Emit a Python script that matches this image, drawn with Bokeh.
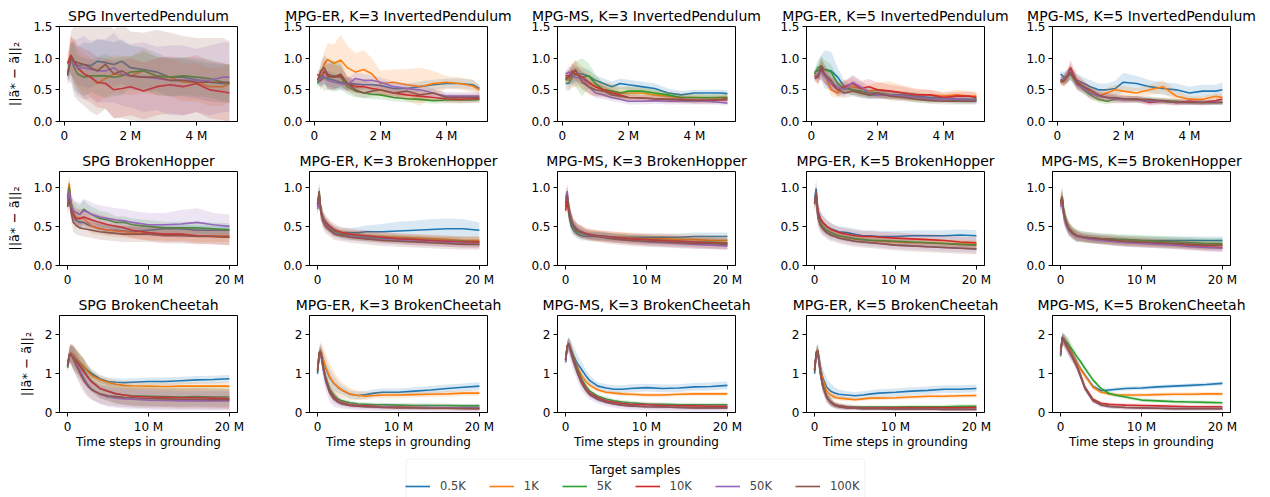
from bokeh.plotting import figure
from bokeh.layouts import gridplot, column
from bokeh.models import FixedTicker, Legend, LegendItem, Range1d, BoxAnnotation, Label
from bokeh.embed import file_html
from bokeh.resources import INLINE

SERIES = ["0.5K", "1K", "5K", "10K", "50K", "100K"]
COLORS = ["#1f77b4", "#ff7f0e", "#2ca02c", "#d62728", "#9467bd", "#8c564b"]
METHODS = ["SPG", "MPG-ER, K=3", "MPG-MS, K=3", "MPG-ER, K=5", "MPG-MS, K=5"]
ENVS = ["InvertedPendulum", "BrokenHopper", "BrokenCheetah"]
LEGEND_TITLE = "Target samples"

# time steps (millions)
X_IP = [0.1, 0.2, 0.3, 0.4, 0.6, 0.8, 1.0, 1.25, 1.5, 1.75, 2.0, 2.4, 2.8, 3.2, 3.6, 4.0, 4.4, 4.8, 5.0]
X_BH = [0, 0.2, 0.4, 0.7, 1.0, 1.5, 2, 2.5, 3, 4, 5, 6, 7, 8, 10, 12, 14, 16, 18, 20]

# ---------------- InvertedPendulum ----------------
ip_spg = [
    [0.75, 1.0, 0.95, 0.88, 0.9, 0.88, 0.95, 0.93, 0.9, 0.95, 0.85, 0.82, 0.78, 0.7, 0.7, 0.66, 0.62, 0.6, 0.6],
    [0.9, 1.05, 0.95, 0.85, 0.75, 0.7, 0.6, 0.68, 0.75, 0.74, 0.72, 0.8, 0.72, 0.7, 0.62, 0.62, 0.55, 0.55, 0.6],
    [0.75, 1.0, 0.85, 0.75, 0.7, 0.72, 0.72, 0.72, 0.7, 0.72, 0.78, 0.8, 0.72, 0.7, 0.72, 0.7, 0.68, 0.62, 0.6],
    [0.92, 1.05, 0.95, 0.85, 0.75, 0.7, 0.62, 0.6, 0.5, 0.52, 0.55, 0.48, 0.55, 0.58, 0.55, 0.6, 0.5, 0.47, 0.45],
    [0.75, 0.95, 0.9, 0.85, 0.85, 0.82, 0.8, 0.8, 0.85, 0.75, 0.72, 0.7, 0.68, 0.65, 0.65, 0.65, 0.65, 0.7, 0.7],
    [0.72, 1.02, 0.95, 0.93, 0.9, 0.85, 0.8, 0.9, 0.75, 0.8, 0.72, 0.7, 0.7, 0.65, 0.65, 0.62, 0.62, 0.62, 0.62],
]
ip_spg_sd = [
    [0.1, 0.25, 0.3, 0.3, 0.35, 0.35, 0.35, 0.35, 0.35, 0.35, 0.35, 0.35, 0.3, 0.3, 0.3, 0.3, 0.3, 0.3, 0.3],
    [0.12, 0.3, 0.3, 0.3, 0.3, 0.3, 0.3, 0.3, 0.3, 0.3, 0.3, 0.35, 0.3, 0.3, 0.3, 0.3, 0.3, 0.3, 0.3],
    [0.1, 0.25, 0.35, 0.3, 0.3, 0.25, 0.3, 0.35, 0.3, 0.3, 0.25, 0.3, 0.3, 0.3, 0.3, 0.3, 0.3, 0.3, 0.3],
    [0.12, 0.3, 0.35, 0.35, 0.4, 0.4, 0.4, 0.4, 0.45, 0.45, 0.45, 0.45, 0.45, 0.45, 0.45, 0.45, 0.45, 0.45, 0.45],
    [0.1, 0.3, 0.4, 0.45, 0.5, 0.45, 0.5, 0.5, 0.55, 0.5, 0.5, 0.55, 0.5, 0.55, 0.55, 0.5, 0.55, 0.55, 0.55],
    [0.12, 0.4, 0.55, 0.6, 0.65, 0.7, 0.7, 0.7, 0.7, 0.75, 0.7, 0.7, 0.75, 0.75, 0.7, 0.7, 0.7, 0.7, 0.65],
]
ip_er3 = [
    [0.62, 0.65, 0.7, 0.68, 0.65, 0.62, 0.6, 0.59, 0.58, 0.58, 0.57, 0.52, 0.52, 0.55, 0.58, 0.6, 0.6, 0.58, 0.52],
    [0.65, 0.75, 0.9, 0.98, 0.92, 0.97, 0.85, 0.78, 0.82, 0.75, 0.6, 0.62, 0.58, 0.55, 0.6, 0.62, 0.6, 0.56, 0.5],
    [0.6, 0.72, 0.68, 0.7, 0.72, 0.7, 0.55, 0.48, 0.45, 0.43, 0.42, 0.38, 0.36, 0.35, 0.33, 0.34, 0.34, 0.34, 0.35],
    [0.75, 0.65, 0.8, 0.72, 0.7, 0.72, 0.6, 0.55, 0.55, 0.52, 0.5, 0.45, 0.42, 0.4, 0.38, 0.36, 0.35, 0.36, 0.36],
    [0.65, 0.68, 0.72, 0.65, 0.62, 0.6, 0.58, 0.68, 0.65, 0.65, 0.62, 0.55, 0.52, 0.5, 0.45, 0.4, 0.4, 0.4, 0.4],
    [0.65, 0.8, 0.85, 0.75, 0.7, 0.75, 0.6, 0.5, 0.45, 0.48, 0.5, 0.45, 0.48, 0.42, 0.45, 0.38, 0.38, 0.38, 0.38],
]
ip_er3_sd = [
    [0.05, 0.1, 0.12, 0.12, 0.12, 0.1, 0.1, 0.08, 0.08, 0.08, 0.08, 0.08, 0.08, 0.08, 0.08, 0.08, 0.08, 0.08, 0.06],
    [0.05, 0.15, 0.2, 0.25, 0.3, 0.4, 0.35, 0.3, 0.3, 0.25, 0.2, 0.2, 0.25, 0.3, 0.2, 0.1, 0.1, 0.1, 0.08],
    [0.05, 0.15, 0.2, 0.2, 0.25, 0.2, 0.12, 0.1, 0.08, 0.08, 0.07, 0.06, 0.06, 0.05, 0.05, 0.05, 0.05, 0.05, 0.05],
    [0.08, 0.15, 0.2, 0.2, 0.2, 0.15, 0.12, 0.1, 0.1, 0.08, 0.08, 0.08, 0.07, 0.07, 0.06, 0.06, 0.06, 0.06, 0.06],
    [0.05, 0.1, 0.12, 0.12, 0.12, 0.1, 0.1, 0.1, 0.1, 0.08, 0.08, 0.08, 0.08, 0.07, 0.07, 0.06, 0.06, 0.06, 0.06],
    [0.05, 0.15, 0.2, 0.25, 0.2, 0.2, 0.12, 0.1, 0.08, 0.08, 0.08, 0.07, 0.07, 0.07, 0.06, 0.06, 0.06, 0.06, 0.06],
]
ip_ms3 = [
    [0.6, 0.6, 0.7, 0.75, 0.75, 0.72, 0.65, 0.6, 0.55, 0.6, 0.58, 0.55, 0.52, 0.45, 0.42, 0.45, 0.45, 0.45, 0.44],
    [0.7, 0.65, 0.72, 0.75, 0.7, 0.6, 0.55, 0.5, 0.48, 0.45, 0.45, 0.45, 0.42, 0.4, 0.38, 0.38, 0.37, 0.38, 0.38],
    [0.65, 0.7, 0.72, 0.75, 0.7, 0.72, 0.6, 0.5, 0.48, 0.45, 0.48, 0.48, 0.45, 0.42, 0.38, 0.38, 0.38, 0.38, 0.38],
    [0.72, 0.72, 0.8, 0.75, 0.7, 0.62, 0.55, 0.5, 0.45, 0.42, 0.38, 0.37, 0.36, 0.35, 0.35, 0.33, 0.33, 0.34, 0.34],
    [0.75, 0.78, 0.72, 0.7, 0.68, 0.55, 0.45, 0.42, 0.38, 0.35, 0.32, 0.32, 0.33, 0.32, 0.32, 0.32, 0.32, 0.3, 0.29],
    [0.68, 0.7, 0.75, 0.82, 0.62, 0.55, 0.5, 0.48, 0.42, 0.4, 0.38, 0.37, 0.36, 0.35, 0.34, 0.34, 0.34, 0.35, 0.36],
]
ip_ms3_sd = [
    [0.1, 0.12, 0.12, 0.12, 0.1, 0.1, 0.08, 0.08, 0.08, 0.08, 0.08, 0.08, 0.08, 0.07, 0.06, 0.05, 0.05, 0.05, 0.05],
    [0.08, 0.15, 0.2, 0.2, 0.18, 0.18, 0.15, 0.12, 0.12, 0.1, 0.1, 0.08, 0.08, 0.07, 0.06, 0.06, 0.05, 0.05, 0.05],
    [0.05, 0.1, 0.15, 0.2, 0.3, 0.2, 0.15, 0.1, 0.08, 0.08, 0.07, 0.06, 0.06, 0.05, 0.05, 0.05, 0.05, 0.05, 0.05],
    [0.05, 0.1, 0.12, 0.12, 0.1, 0.1, 0.08, 0.07, 0.06, 0.06, 0.05, 0.05, 0.05, 0.05, 0.05, 0.05, 0.05, 0.05, 0.05],
    [0.05, 0.1, 0.12, 0.12, 0.1, 0.1, 0.08, 0.07, 0.06, 0.05, 0.05, 0.05, 0.05, 0.05, 0.05, 0.05, 0.05, 0.04, 0.04],
    [0.05, 0.1, 0.15, 0.15, 0.12, 0.1, 0.1, 0.08, 0.07, 0.06, 0.06, 0.05, 0.05, 0.05, 0.05, 0.05, 0.05, 0.05, 0.05],
]
ip_er5 = [
    [0.78, 0.8, 0.85, 0.82, 0.8, 0.7, 0.55, 0.5, 0.45, 0.42, 0.42, 0.42, 0.42, 0.4, 0.38, 0.38, 0.36, 0.35, 0.35],
    [0.75, 0.7, 0.85, 0.75, 0.5, 0.45, 0.55, 0.55, 0.52, 0.48, 0.5, 0.48, 0.45, 0.42, 0.42, 0.4, 0.42, 0.4, 0.4],
    [0.75, 0.85, 0.88, 0.82, 0.78, 0.6, 0.52, 0.5, 0.48, 0.45, 0.45, 0.42, 0.4, 0.38, 0.35, 0.35, 0.33, 0.33, 0.35],
    [0.72, 0.7, 0.82, 0.75, 0.6, 0.5, 0.55, 0.6, 0.52, 0.55, 0.5, 0.48, 0.45, 0.42, 0.42, 0.38, 0.4, 0.4, 0.38],
    [0.7, 0.75, 0.78, 0.72, 0.6, 0.55, 0.5, 0.62, 0.55, 0.45, 0.42, 0.42, 0.4, 0.38, 0.36, 0.35, 0.35, 0.34, 0.33],
    [0.68, 0.7, 0.88, 0.75, 0.65, 0.5, 0.45, 0.48, 0.45, 0.42, 0.45, 0.4, 0.38, 0.35, 0.33, 0.32, 0.32, 0.32, 0.32],
]
ip_er5_sd = [
    [0.05, 0.12, 0.2, 0.3, 0.3, 0.15, 0.1, 0.08, 0.07, 0.06, 0.06, 0.06, 0.06, 0.05, 0.05, 0.05, 0.05, 0.05, 0.05],
    [0.05, 0.1, 0.12, 0.12, 0.1, 0.08, 0.1, 0.12, 0.1, 0.1, 0.12, 0.15, 0.12, 0.1, 0.08, 0.07, 0.08, 0.08, 0.07],
    [0.05, 0.12, 0.15, 0.15, 0.12, 0.1, 0.08, 0.08, 0.08, 0.07, 0.07, 0.06, 0.06, 0.08, 0.06, 0.05, 0.05, 0.05, 0.05],
    [0.05, 0.12, 0.15, 0.15, 0.12, 0.1, 0.1, 0.12, 0.12, 0.12, 0.12, 0.1, 0.1, 0.08, 0.08, 0.07, 0.07, 0.07, 0.07],
    [0.05, 0.1, 0.12, 0.12, 0.1, 0.1, 0.1, 0.12, 0.1, 0.08, 0.07, 0.06, 0.06, 0.05, 0.05, 0.05, 0.05, 0.05, 0.05],
    [0.05, 0.1, 0.15, 0.15, 0.12, 0.1, 0.08, 0.08, 0.08, 0.07, 0.07, 0.06, 0.06, 0.05, 0.05, 0.05, 0.05, 0.05, 0.05],
]
ip_ms5 = [
    [0.75, 0.7, 0.72, 0.75, 0.65, 0.6, 0.55, 0.5, 0.5, 0.52, 0.62, 0.6, 0.55, 0.52, 0.5, 0.45, 0.48, 0.48, 0.5],
    [0.65, 0.62, 0.7, 0.8, 0.62, 0.55, 0.48, 0.4, 0.45, 0.5, 0.48, 0.45, 0.5, 0.55, 0.4, 0.35, 0.35, 0.4, 0.38],
    [0.65, 0.65, 0.72, 0.75, 0.6, 0.5, 0.42, 0.35, 0.32, 0.35, 0.35, 0.35, 0.33, 0.33, 0.32, 0.3, 0.3, 0.3, 0.3],
    [0.65, 0.65, 0.72, 0.85, 0.62, 0.55, 0.45, 0.4, 0.38, 0.36, 0.35, 0.35, 0.3, 0.32, 0.3, 0.32, 0.3, 0.33, 0.35],
    [0.65, 0.68, 0.7, 0.8, 0.58, 0.52, 0.45, 0.4, 0.38, 0.36, 0.35, 0.35, 0.32, 0.32, 0.3, 0.3, 0.3, 0.3, 0.3],
    [0.62, 0.65, 0.7, 0.78, 0.6, 0.55, 0.5, 0.42, 0.38, 0.38, 0.36, 0.35, 0.35, 0.32, 0.3, 0.3, 0.3, 0.3, 0.3],
]
ip_ms5_sd = [
    [0.05, 0.08, 0.1, 0.1, 0.1, 0.1, 0.1, 0.1, 0.1, 0.12, 0.15, 0.12, 0.1, 0.1, 0.1, 0.1, 0.1, 0.1, 0.12],
    [0.05, 0.08, 0.1, 0.1, 0.1, 0.08, 0.08, 0.08, 0.08, 0.08, 0.08, 0.08, 0.08, 0.1, 0.08, 0.05, 0.05, 0.05, 0.05],
    [0.05, 0.08, 0.1, 0.1, 0.08, 0.07, 0.06, 0.05, 0.05, 0.05, 0.05, 0.05, 0.05, 0.05, 0.04, 0.04, 0.04, 0.04, 0.04],
    [0.05, 0.08, 0.1, 0.12, 0.12, 0.1, 0.1, 0.08, 0.08, 0.07, 0.06, 0.05, 0.05, 0.05, 0.05, 0.05, 0.05, 0.05, 0.05],
    [0.05, 0.08, 0.1, 0.12, 0.1, 0.08, 0.07, 0.06, 0.05, 0.05, 0.05, 0.05, 0.05, 0.04, 0.04, 0.04, 0.04, 0.04, 0.04],
    [0.05, 0.08, 0.1, 0.1, 0.08, 0.07, 0.06, 0.05, 0.05, 0.05, 0.05, 0.05, 0.05, 0.04, 0.04, 0.04, 0.04, 0.04, 0.04],
]

# ---------------- BrokenHopper ----------------
SD_N = [0.08, 0.1, 0.1, 0.08, 0.07, 0.06, 0.06, 0.05, 0.05, 0.05, 0.05, 0.05, 0.05, 0.05, 0.05, 0.05, 0.05, 0.05, 0.05, 0.05]
SD_W = [0.1, 0.12, 0.12, 0.1, 0.09, 0.08, 0.08, 0.07, 0.07, 0.07, 0.07, 0.07, 0.07, 0.07, 0.07, 0.07, 0.07, 0.07, 0.07, 0.07]

bh_spg = [
    [0.85, 1.0, 0.75, 0.65, 0.58, 0.55, 0.55, 0.52, 0.5, 0.47, 0.45, 0.45, 0.44, 0.43, 0.45, 0.47, 0.47, 0.45, 0.45, 0.45],
    [0.9, 1.05, 0.8, 0.7, 0.62, 0.6, 0.6, 0.55, 0.5, 0.47, 0.45, 0.44, 0.43, 0.42, 0.4, 0.4, 0.4, 0.38, 0.38, 0.38],
    [0.75, 1.0, 0.8, 0.7, 0.68, 0.65, 0.72, 0.68, 0.65, 0.6, 0.58, 0.55, 0.55, 0.52, 0.5, 0.48, 0.48, 0.48, 0.47, 0.46],
    [0.85, 0.95, 0.75, 0.65, 0.6, 0.6, 0.62, 0.6, 0.58, 0.55, 0.52, 0.5, 0.48, 0.45, 0.42, 0.4, 0.4, 0.38, 0.37, 0.36],
    [0.8, 0.95, 0.78, 0.7, 0.68, 0.65, 0.7, 0.68, 0.65, 0.62, 0.6, 0.58, 0.57, 0.55, 0.52, 0.52, 0.53, 0.55, 0.52, 0.5],
    [0.75, 0.85, 0.7, 0.55, 0.52, 0.48, 0.47, 0.46, 0.45, 0.43, 0.42, 0.41, 0.4, 0.4, 0.4, 0.38, 0.38, 0.37, 0.37, 0.36],
]
bh_spg_sd = [
    [0.1, 0.1, 0.12, 0.1, 0.08, 0.08, 0.08, 0.07, 0.07, 0.06, 0.06, 0.06, 0.06, 0.06, 0.06, 0.06, 0.06, 0.06, 0.06, 0.06],
    [0.1, 0.1, 0.12, 0.12, 0.12, 0.1, 0.1, 0.1, 0.1, 0.08, 0.08, 0.08, 0.08, 0.08, 0.08, 0.08, 0.08, 0.08, 0.08, 0.08],
    [0.1, 0.1, 0.12, 0.12, 0.12, 0.12, 0.12, 0.1, 0.1, 0.1, 0.1, 0.08, 0.08, 0.08, 0.08, 0.08, 0.08, 0.08, 0.08, 0.08],
    [0.1, 0.1, 0.12, 0.12, 0.12, 0.12, 0.1, 0.1, 0.1, 0.1, 0.1, 0.1, 0.1, 0.1, 0.1, 0.1, 0.1, 0.1, 0.1, 0.1],
    [0.1, 0.12, 0.15, 0.15, 0.15, 0.15, 0.15, 0.15, 0.15, 0.15, 0.15, 0.15, 0.15, 0.15, 0.15, 0.15, 0.18, 0.18, 0.15, 0.15],
    [0.1, 0.1, 0.12, 0.12, 0.12, 0.1, 0.1, 0.1, 0.1, 0.1, 0.1, 0.1, 0.1, 0.1, 0.1, 0.1, 0.1, 0.1, 0.1, 0.1],
]
bh_er3 = [
    [0.8, 0.92, 0.7, 0.6, 0.55, 0.5, 0.45, 0.43, 0.42, 0.42, 0.42, 0.43, 0.43, 0.43, 0.44, 0.45, 0.46, 0.47, 0.47, 0.45],
    [0.75, 0.88, 0.68, 0.58, 0.53, 0.48, 0.44, 0.42, 0.41, 0.4, 0.39, 0.38, 0.37, 0.37, 0.36, 0.35, 0.34, 0.33, 0.32, 0.32],
    [0.78, 0.9, 0.7, 0.58, 0.53, 0.48, 0.44, 0.41, 0.4, 0.38, 0.37, 0.36, 0.36, 0.35, 0.34, 0.33, 0.32, 0.31, 0.31, 0.3],
    [0.75, 0.9, 0.7, 0.6, 0.55, 0.5, 0.46, 0.44, 0.42, 0.4, 0.39, 0.38, 0.37, 0.36, 0.34, 0.33, 0.32, 0.31, 0.3, 0.3],
    [0.72, 0.88, 0.68, 0.58, 0.52, 0.46, 0.42, 0.4, 0.38, 0.37, 0.36, 0.35, 0.34, 0.33, 0.32, 0.31, 0.3, 0.29, 0.28, 0.27],
    [0.78, 0.95, 0.68, 0.56, 0.5, 0.45, 0.41, 0.39, 0.38, 0.36, 0.35, 0.34, 0.33, 0.32, 0.31, 0.3, 0.29, 0.28, 0.27, 0.27],
]
bh_er3_blue_sd = [0.08, 0.1, 0.1, 0.08, 0.07, 0.06, 0.06, 0.06, 0.06, 0.06, 0.07, 0.08, 0.09, 0.1, 0.12, 0.12, 0.13, 0.13, 0.12, 0.1]
bh_er3_sd = [bh_er3_blue_sd, SD_N, SD_N, SD_W, SD_N, SD_W]
bh_ms3 = [
    [0.8, 0.85, 0.65, 0.5, 0.45, 0.4, 0.38, 0.37, 0.37, 0.37, 0.37, 0.36, 0.36, 0.36, 0.36, 0.36, 0.36, 0.37, 0.37, 0.37],
    [0.8, 0.9, 0.7, 0.58, 0.5, 0.45, 0.42, 0.4, 0.39, 0.38, 0.37, 0.36, 0.36, 0.35, 0.34, 0.34, 0.33, 0.33, 0.32, 0.32],
    [0.75, 0.88, 0.68, 0.55, 0.48, 0.43, 0.41, 0.4, 0.39, 0.38, 0.37, 0.36, 0.35, 0.34, 0.33, 0.32, 0.31, 0.3, 0.3, 0.29],
    [0.7, 0.85, 0.7, 0.58, 0.5, 0.45, 0.43, 0.41, 0.4, 0.38, 0.37, 0.36, 0.35, 0.34, 0.33, 0.32, 0.31, 0.3, 0.29, 0.28],
    [0.85, 0.95, 0.75, 0.6, 0.52, 0.46, 0.42, 0.4, 0.38, 0.37, 0.36, 0.34, 0.33, 0.32, 0.3, 0.29, 0.28, 0.27, 0.26, 0.25],
    [0.8, 0.9, 0.72, 0.58, 0.5, 0.45, 0.42, 0.4, 0.38, 0.37, 0.35, 0.34, 0.33, 0.32, 0.31, 0.3, 0.29, 0.28, 0.28, 0.27],
]
bh_ms3_sd = [SD_N, SD_W, SD_N, SD_W, SD_N, SD_W]
bh_er5 = [
    [0.85, 0.98, 0.7, 0.6, 0.55, 0.5, 0.47, 0.45, 0.43, 0.42, 0.4, 0.38, 0.38, 0.37, 0.37, 0.38, 0.38, 0.38, 0.39, 0.38],
    [0.8, 0.9, 0.65, 0.55, 0.5, 0.45, 0.42, 0.4, 0.38, 0.36, 0.34, 0.33, 0.32, 0.31, 0.3, 0.29, 0.29, 0.28, 0.27, 0.27],
    [0.8, 0.9, 0.65, 0.55, 0.5, 0.45, 0.42, 0.4, 0.38, 0.36, 0.34, 0.33, 0.32, 0.32, 0.31, 0.3, 0.29, 0.28, 0.27, 0.26],
    [0.8, 0.92, 0.7, 0.6, 0.55, 0.5, 0.46, 0.44, 0.42, 0.4, 0.38, 0.37, 0.37, 0.36, 0.35, 0.34, 0.33, 0.32, 0.3, 0.29],
    [0.8, 0.88, 0.62, 0.52, 0.47, 0.42, 0.39, 0.37, 0.35, 0.33, 0.31, 0.3, 0.29, 0.28, 0.26, 0.25, 0.24, 0.23, 0.22, 0.21],
    [0.78, 0.9, 0.62, 0.52, 0.47, 0.42, 0.39, 0.37, 0.35, 0.33, 0.31, 0.3, 0.29, 0.28, 0.26, 0.25, 0.24, 0.23, 0.22, 0.21],
]
bh_er5_sd = [SD_W, SD_N, SD_N, SD_W, SD_N, SD_W]
bh_ms5 = [
    [0.8, 0.85, 0.65, 0.55, 0.48, 0.42, 0.38, 0.37, 0.36, 0.35, 0.34, 0.34, 0.33, 0.33, 0.32, 0.32, 0.32, 0.32, 0.32, 0.32],
    [0.8, 0.85, 0.65, 0.55, 0.48, 0.42, 0.38, 0.37, 0.36, 0.34, 0.33, 0.32, 0.32, 0.31, 0.3, 0.29, 0.28, 0.27, 0.26, 0.26],
    [0.8, 0.88, 0.68, 0.56, 0.48, 0.42, 0.38, 0.37, 0.36, 0.35, 0.34, 0.34, 0.33, 0.33, 0.32, 0.31, 0.3, 0.29, 0.28, 0.28],
    [0.78, 0.85, 0.65, 0.55, 0.47, 0.41, 0.38, 0.36, 0.35, 0.34, 0.33, 0.32, 0.31, 0.3, 0.29, 0.28, 0.27, 0.26, 0.24, 0.23],
    [0.75, 0.82, 0.62, 0.52, 0.45, 0.4, 0.37, 0.36, 0.35, 0.33, 0.32, 0.31, 0.3, 0.29, 0.28, 0.27, 0.26, 0.24, 0.23, 0.22],
    [0.82, 0.88, 0.66, 0.55, 0.47, 0.41, 0.38, 0.37, 0.36, 0.35, 0.34, 0.33, 0.32, 0.31, 0.3, 0.29, 0.28, 0.27, 0.26, 0.26],
]
bh_ms5_sd = [SD_N, SD_N, SD_W, SD_N, SD_N, SD_W]

# ---------------- BrokenCheetah ----------------
SD_CN = [0.1, 0.12, 0.15, 0.15, 0.15, 0.12, 0.1, 0.08, 0.07, 0.06, 0.05, 0.05, 0.05, 0.05, 0.05, 0.05, 0.05, 0.05, 0.05, 0.05]
SD_CW = [0.1, 0.15, 0.2, 0.25, 0.25, 0.22, 0.2, 0.15, 0.12, 0.1, 0.1, 0.1, 0.1, 0.1, 0.1, 0.1, 0.1, 0.1, 0.1, 0.1]

bc_spg = [
    [1.2, 1.45, 1.5, 1.45, 1.38, 1.28, 1.18, 1.08, 1.0, 0.87, 0.8, 0.78, 0.77, 0.78, 0.8, 0.8, 0.82, 0.84, 0.85, 0.87],
    [1.2, 1.5, 1.55, 1.5, 1.42, 1.3, 1.2, 1.05, 0.95, 0.85, 0.78, 0.73, 0.7, 0.69, 0.68, 0.67, 0.68, 0.68, 0.68, 0.68],
    [1.15, 1.45, 1.5, 1.42, 1.35, 1.22, 1.1, 0.92, 0.8, 0.62, 0.55, 0.48, 0.45, 0.43, 0.42, 0.41, 0.4, 0.41, 0.4, 0.4],
    [1.2, 1.45, 1.5, 1.42, 1.33, 1.2, 1.05, 0.9, 0.78, 0.62, 0.55, 0.48, 0.45, 0.42, 0.4, 0.39, 0.38, 0.38, 0.37, 0.35],
    [1.2, 1.5, 1.52, 1.4, 1.28, 1.1, 0.9, 0.72, 0.6, 0.47, 0.4, 0.37, 0.35, 0.34, 0.32, 0.31, 0.3, 0.3, 0.3, 0.3],
    [1.2, 1.48, 1.5, 1.38, 1.25, 1.02, 0.82, 0.68, 0.58, 0.48, 0.43, 0.41, 0.39, 0.38, 0.36, 0.35, 0.34, 0.34, 0.33, 0.33],
]
bc_spg_big_sd = [0.1, 0.2, 0.25, 0.3, 0.3, 0.3, 0.3, 0.28, 0.26, 0.25, 0.25, 0.25, 0.25, 0.25, 0.25, 0.25, 0.25, 0.25, 0.25, 0.25]
bc_spg_sd = [SD_CW, SD_CW, bc_spg_big_sd, bc_spg_big_sd, bc_spg_big_sd, bc_spg_big_sd]
bc_er3 = [
    [1.0, 1.55, 1.6, 1.35, 1.15, 0.9, 0.75, 0.65, 0.58, 0.47, 0.44, 0.46, 0.5, 0.52, 0.52, 0.55, 0.58, 0.62, 0.65, 0.68],
    [1.1, 1.55, 1.6, 1.38, 1.18, 0.92, 0.76, 0.66, 0.58, 0.48, 0.44, 0.42, 0.44, 0.45, 0.45, 0.46, 0.47, 0.48, 0.5, 0.5],
    [1.05, 1.5, 1.55, 1.2, 0.9, 0.6, 0.45, 0.35, 0.3, 0.25, 0.22, 0.21, 0.2, 0.2, 0.19, 0.18, 0.18, 0.18, 0.17, 0.17],
    [1.1, 1.5, 1.55, 1.15, 0.85, 0.55, 0.4, 0.3, 0.25, 0.2, 0.18, 0.17, 0.16, 0.15, 0.14, 0.13, 0.12, 0.12, 0.11, 0.1],
    [1.1, 1.5, 1.5, 1.1, 0.8, 0.5, 0.35, 0.27, 0.22, 0.18, 0.16, 0.15, 0.14, 0.14, 0.13, 0.13, 0.13, 0.12, 0.12, 0.12],
    [1.05, 1.55, 1.55, 1.15, 0.85, 0.52, 0.36, 0.28, 0.23, 0.18, 0.16, 0.15, 0.14, 0.13, 0.12, 0.12, 0.11, 0.11, 0.1, 0.1],
]
bc_er3_orange_sd = [0.1, 0.15, 0.2, 0.3, 0.35, 0.35, 0.3, 0.25, 0.2, 0.15, 0.12, 0.1, 0.08, 0.08, 0.07, 0.07, 0.07, 0.07, 0.07, 0.07]
bc_er3_sd = [SD_CW, bc_er3_orange_sd, SD_CN, SD_CN, SD_CW, SD_CN]
bc_ms3 = [
    [1.35, 1.7, 1.75, 1.6, 1.45, 1.25, 1.1, 0.95, 0.82, 0.68, 0.63, 0.6, 0.6, 0.62, 0.64, 0.62, 0.63, 0.66, 0.67, 0.7],
    [1.35, 1.7, 1.75, 1.6, 1.4, 1.15, 0.95, 0.8, 0.7, 0.58, 0.52, 0.5, 0.48, 0.47, 0.45, 0.45, 0.47, 0.48, 0.48, 0.48],
    [1.3, 1.7, 1.78, 1.6, 1.4, 1.1, 0.85, 0.68, 0.55, 0.42, 0.35, 0.3, 0.27, 0.25, 0.22, 0.21, 0.2, 0.2, 0.2, 0.2],
    [1.35, 1.72, 1.75, 1.55, 1.35, 1.05, 0.8, 0.62, 0.5, 0.38, 0.3, 0.26, 0.23, 0.21, 0.2, 0.18, 0.17, 0.17, 0.16, 0.16],
    [1.3, 1.68, 1.72, 1.5, 1.3, 1.0, 0.75, 0.58, 0.45, 0.33, 0.26, 0.22, 0.19, 0.17, 0.15, 0.14, 0.13, 0.12, 0.12, 0.12],
    [1.35, 1.72, 1.78, 1.55, 1.32, 1.0, 0.75, 0.58, 0.46, 0.34, 0.27, 0.22, 0.19, 0.17, 0.15, 0.14, 0.13, 0.12, 0.12, 0.12],
]
bc_ms3_sd = [SD_CW, SD_CN, SD_CN, SD_CN, SD_CW, SD_CN]
bc_er5 = [
    [1.0, 1.55, 1.6, 1.2, 0.9, 0.65, 0.55, 0.5, 0.47, 0.45, 0.43, 0.45, 0.48, 0.5, 0.52, 0.55, 0.57, 0.6, 0.6, 0.62],
    [1.1, 1.55, 1.6, 1.15, 0.85, 0.55, 0.45, 0.4, 0.37, 0.35, 0.33, 0.35, 0.37, 0.37, 0.38, 0.4, 0.42, 0.42, 0.43, 0.44],
    [1.1, 1.5, 1.55, 1.05, 0.7, 0.4, 0.27, 0.2, 0.18, 0.15, 0.14, 0.14, 0.14, 0.14, 0.14, 0.15, 0.15, 0.15, 0.16, 0.16],
    [1.1, 1.5, 1.55, 1.05, 0.7, 0.4, 0.27, 0.2, 0.17, 0.14, 0.13, 0.12, 0.12, 0.12, 0.12, 0.12, 0.12, 0.12, 0.12, 0.13],
    [1.1, 1.5, 1.55, 1.0, 0.68, 0.38, 0.25, 0.18, 0.15, 0.12, 0.11, 0.1, 0.1, 0.1, 0.09, 0.09, 0.09, 0.08, 0.08, 0.08],
    [1.05, 1.55, 1.6, 1.05, 0.7, 0.4, 0.26, 0.18, 0.15, 0.12, 0.11, 0.1, 0.1, 0.1, 0.09, 0.09, 0.09, 0.08, 0.08, 0.08],
]
bc_er5_sd = [SD_CW, SD_CN, SD_CN, SD_CN, SD_CN, SD_CN]
bc_ms5 = [
    [1.5, 1.95, 1.9, 1.82, 1.72, 1.5, 1.3, 1.12, 0.97, 0.68, 0.56, 0.58, 0.6, 0.62, 0.63, 0.66, 0.68, 0.7, 0.72, 0.75],
    [1.5, 1.9, 1.88, 1.8, 1.7, 1.48, 1.28, 1.1, 0.95, 0.65, 0.52, 0.48, 0.45, 0.45, 0.45, 0.46, 0.47, 0.47, 0.48, 0.48],
    [1.45, 1.9, 1.88, 1.82, 1.75, 1.6, 1.44, 1.3, 1.14, 0.84, 0.62, 0.49, 0.44, 0.4, 0.32, 0.3, 0.28, 0.27, 0.26, 0.25],
    [1.5, 1.92, 1.85, 1.75, 1.62, 1.42, 1.22, 0.95, 0.66, 0.34, 0.24, 0.21, 0.2, 0.19, 0.18, 0.17, 0.16, 0.15, 0.15, 0.15],
    [1.5, 1.9, 1.85, 1.72, 1.6, 1.4, 1.18, 0.9, 0.62, 0.3, 0.19, 0.15, 0.14, 0.13, 0.12, 0.11, 0.1, 0.1, 0.1, 0.1],
    [1.55, 1.92, 1.85, 1.72, 1.6, 1.4, 1.2, 0.92, 0.63, 0.31, 0.2, 0.16, 0.14, 0.13, 0.12, 0.11, 0.1, 0.1, 0.1, 0.1],
]
bc_ms5_sd = [SD_CN, SD_CN, SD_CN, SD_CN, SD_CN, SD_CN]

PANELS = [
    [(X_IP, ip_spg, ip_spg_sd), (X_IP, ip_er3, ip_er3_sd), (X_IP, ip_ms3, ip_ms3_sd), (X_IP, ip_er5, ip_er5_sd), (X_IP, ip_ms5, ip_ms5_sd)],
    [(X_BH, bh_spg, bh_spg_sd), (X_BH, bh_er3, bh_er3_sd), (X_BH, bh_ms3, bh_ms3_sd), (X_BH, bh_er5, bh_er5_sd), (X_BH, bh_ms5, bh_ms5_sd)],
    [(X_BH, bc_spg, bc_spg_sd), (X_BH, bc_er3, bc_er3_sd), (X_BH, bc_ms3, bc_ms3_sd), (X_BH, bc_er5, bc_er5_sd), (X_BH, bc_ms5, bc_ms5_sd)],
]

ROW_XR = [(-0.145, 5.245), (-1.0, 21.0), (-1.0, 21.0)]
ROW_XT = [[0, 2, 4], [0, 10, 20], [0, 10, 20]]
ROW_XL = [["0", "2 M", "4 M"], ["0", "10 M", "20 M"], ["0", "10 M", "20 M"]]
ROW_YR = [(0, 1.5), (0, 1.2), (0, 2.5)]
ROW_YT = [[0, 0.5, 1.0, 1.5], [0, 0.5, 1.0], [0, 1, 2]]
ROW_YL = [["0.0", "0.5", "1.0", "1.5"], ["0.0", "0.5", "1.0"], ["0", "1", "2"]]
Y_LABEL = "||ã* − ã||₂"
X_LABEL = "Time steps in grounding"

# layout (px) -- page has no margin with bokeh's template
FIG_W = [273, 249, 248, 248, 244]
LEFT = [59, 36, 35, 36, 34]
FRAME_W = 178
TOP = 26
FRAME_H = 97
BOTTOM = [22, 21, 46]
FONT = "DejaVu Sans"

rows = []
for r in range(3):
    row = []
    for c in range(5):
        xs, means, sds = PANELS[r][c]
        p = figure(width=FIG_W[c], height=TOP + FRAME_H + BOTTOM[r],
                   x_range=Range1d(*ROW_XR[r]), y_range=Range1d(*ROW_YR[r]),
                   toolbar_location=None, output_backend="svg",
                   min_border_left=LEFT[c], min_border_right=FIG_W[c] - LEFT[c] - FRAME_W,
                   min_border_top=TOP, min_border_bottom=BOTTOM[r],
                   title=f"{METHODS[c]} {ENVS[r]}")
        p.title.text_font = FONT
        p.title.text_font_size = "14px"
        p.title.text_font_style = "normal"
        p.title.align = "center"
        p.title.standoff = 6
        p.title.text_color = "#000000"
        for k in range(6):
            lo = [m - s for m, s in zip(means[k], sds[k])]
            hi = [m + s for m, s in zip(means[k], sds[k])]
            p.varea(x=xs, y1=lo, y2=hi, fill_color=COLORS[k], fill_alpha=0.17)
            p.line(xs, means[k], line_color=COLORS[k], line_width=1.6)
        p.xgrid.visible = False
        p.ygrid.visible = False
        p.outline_line_color = "black"
        p.outline_line_width = 1
        p.xaxis.ticker = FixedTicker(ticks=ROW_XT[r])
        p.xaxis.major_label_overrides = dict(zip(ROW_XT[r], ROW_XL[r]))
        p.yaxis.ticker = FixedTicker(ticks=ROW_YT[r])
        p.yaxis.major_label_overrides = dict(zip(ROW_YT[r], ROW_YL[r]))
        for ax in (p.xaxis, p.yaxis):
            ax.axis_line_color = "black"
            ax.major_tick_in = 0
            ax.major_tick_out = 4
            ax.major_tick_line_color = "black"
            ax.minor_tick_line_color = None
            ax.major_label_text_font = FONT
            ax.major_label_text_font_size = "12px"
            ax.major_label_text_color = "#000000"
            ax.major_label_standoff = 3
            ax.axis_label_text_font = FONT
            ax.axis_label_text_font_size = "12px"
            ax.axis_label_text_font_style = "normal"
            ax.axis_label_text_color = "#000000"
        if c == 0:
            p.yaxis.axis_label = Y_LABEL
            p.yaxis.axis_label_text_font_size = "13px"
            p.yaxis.axis_label_standoff = 8
        if r == 2:
            p.xaxis.axis_label = X_LABEL
            p.xaxis.axis_label_standoff = -2
        row.append(p)
    rows.append(row)

grid = gridplot(rows, toolbar_location=None)

LEG_W = sum(FIG_W)
LEG_H = 39
pl = figure(width=LEG_W, height=LEG_H, x_range=Range1d(0, 1), y_range=Range1d(0, 1),
            toolbar_location=None, output_backend="svg", min_border=0,
            x_axis_location=None, y_axis_location=None)
pl.outline_line_color = None
pl.xgrid.visible = False
pl.ygrid.visible = False
box = BoxAnnotation(left=405.5, right=864.5, top=0.5, bottom=70,
                    left_units="canvas", right_units="canvas", top_units="canvas", bottom_units="canvas",
                    fill_color="white", fill_alpha=1.0, line_color="#cccccc", line_width=1,
                    border_radius=3)
pl.add_layout(box)
items = []
for k in range(6):
    rr = pl.line([5, 6], [5, 6], line_color=COLORS[k], line_width=1.6)
    items.append(LegendItem(label=SERIES[k], renderers=[rr]))
leg = Legend(items=items, orientation="horizontal", location=(405, 2),
             label_text_font=FONT, label_text_font_size="11.5px", label_standoff=10,
             label_width=0, glyph_width=25, glyph_height=18, spacing=23, padding=4, margin=0,
             border_line_color=None, background_fill_alpha=0.0)
pl.add_layout(leg)
title_lbl = Label(x=634.5, y=LEG_H - 11, x_units="screen", y_units="screen", text=LEGEND_TITLE,
                  text_align="center", text_baseline="middle", text_font=FONT,
                  text_font_size="12px", text_color="#000000")
pl.add_layout(title_lbl)

layout = column(grid, pl)
open("out.html", "w").write(file_html(layout, INLINE))
